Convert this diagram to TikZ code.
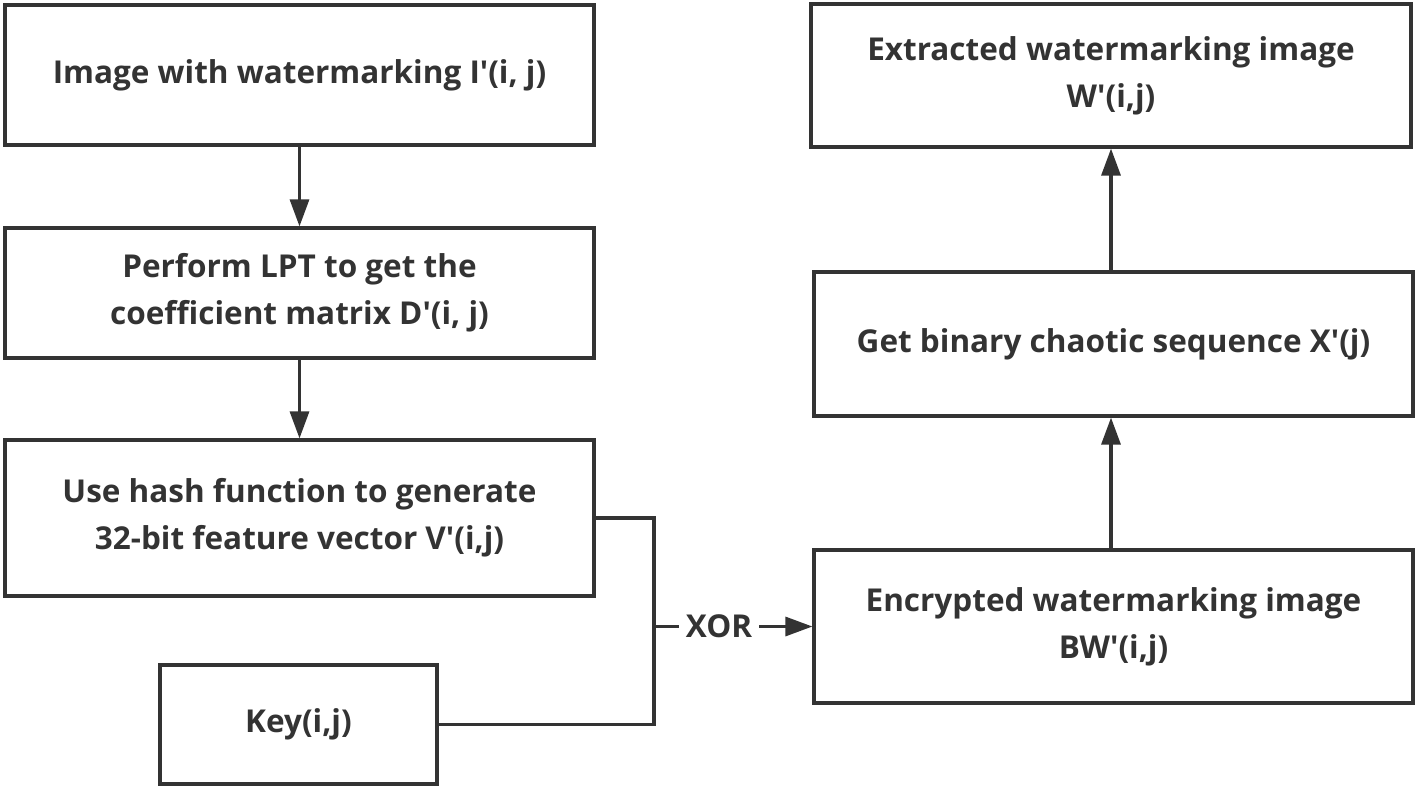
\documentclass[tikz,border=0pt]{standalone}
\usepackage{fontspec}
\setmainfont{Open Sans}[Ligatures=TeXOff]
\usetikzlibrary{arrows.meta}
\definecolor{ink}{HTML}{333333}
\begin{document}
\begin{tikzpicture}[x=1pt,y=-1pt,
  box/.style={draw=ink, line width=3.2pt, fill=white, text=ink, font=\fontsize{31.5}{47}\selectfont\bfseries, align=center, inner sep=0pt},
  conn/.style={draw=ink, line width=3.2pt},
  arr/.style={conn, -{Triangle[length=27pt,width=19pt]}}]
\useasboundingbox[fill=white] (0,0) rectangle (1415,790);
\node[box, minimum width=589pt, minimum height=140pt] (img) at (299.5,75) {Image with watermarking I'(i, j)};
\node[box, minimum width=589pt, minimum height=130pt] (lpt) at (299.5,293) {Perform LPT to get the\\coefficient matrix D'(i, j)};
\node[box, minimum width=589pt, minimum height=156pt] (hash) at (299.5,518) {Use hash function to generate\\32-bit feature vector V'(i,j)};
\node[box, minimum width=277pt, minimum height=119pt] (key) at (298.5,724.5) {Key(i,j)};
\node[box, minimum width=600pt, minimum height=143pt] (ext) at (1111,75.5) {Extracted watermarking image\\W'(i,j)};
\node[box, minimum width=599pt, minimum height=144pt] (chaos) at (1113.5,344) {Get binary chaotic sequence X'(j)};
\node[box, minimum width=599pt, minimum height=153pt] (enc) at (1113.5,626.5) {Encrypted watermarking image\\BW'(i,j)};
\coordinate (jn) at (654,626.5);
\node[text=ink, font=\fontsize{31.5}{36}\selectfont\bfseries, inner sep=0pt, minimum width=80pt] (xor) at (719,626.5) {XOR};
\draw[arr] (img.south) -- (lpt.north);
\draw[arr] (lpt.south) -- (hash.north);
\draw[conn] (hash.east) -| (jn) |- (key.east);
\draw[conn] (jn) -- (xor.west);
\draw[arr] (xor.east) -- (enc.west);
\draw[arr] (enc.north -| ext.south) -- (chaos.south -| ext.south);
\draw[arr] (chaos.north -| ext.south) -- (ext.south);
\end{tikzpicture}
\end{document}
